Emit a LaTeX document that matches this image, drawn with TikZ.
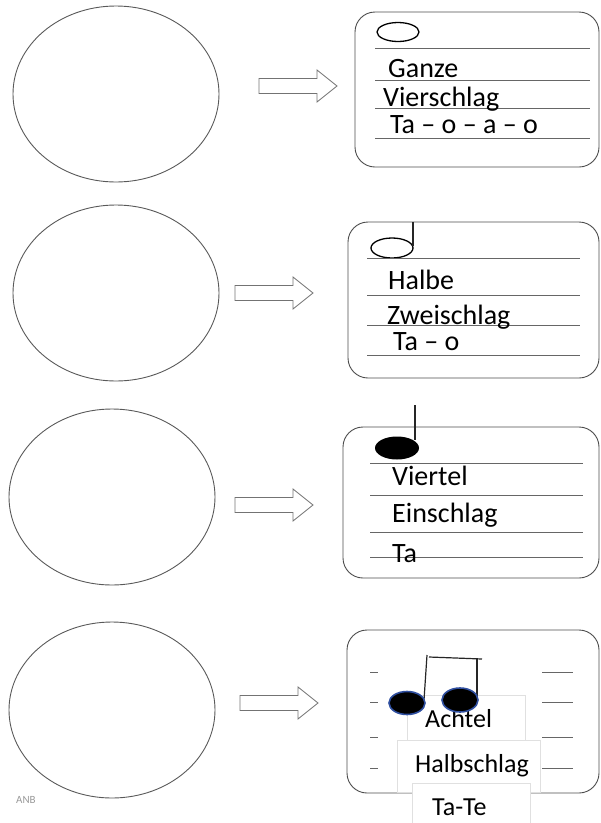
\documentclass[tikz,border=0pt]{standalone}
\usepackage{fontspec}
\setmainfont{Carlito}
\usetikzlibrary{shapes.geometric}

\tikzset{
  oval/.style={draw=black!65, line width=0.9pt, ellipse, inner sep=0pt,
    minimum width=206pt, minimum height=176pt},
  card/.style={draw=black!70, line width=0.9pt, rounded corners=20pt, inner sep=0pt},
  rule/.style={draw=black!60, line width=0.8pt},
  blockarrow/.style={draw=black!55, line width=0.8pt},
  label/.style={anchor=base west, inner sep=0pt, font=\fontsize{28}{32}\selectfont},
  small/.style={anchor=base west, inner sep=0pt, font=\fontsize{26}{30}\selectfont},
  tagbox/.style={draw=black!12, fill=white, line width=0.6pt},
  notehead/.style={fill=black, draw=black, line width=1pt},
  stem/.style={draw=black!85, line width=1.2pt}
}

\begin{document}
\begin{tikzpicture}[x=1pt,y=-1pt]
  \useasboundingbox (0,0) rectangle (601,823);

  % empty circles on the left
  \node[oval] (circ1) at (116,94) {};
  \node[oval] (circ2) at (116,293) {};
  \node[oval] (circ3) at (112,497) {};
  \node[oval] (circ4) at (112,710) {};

  % block arrows
  \foreach \ax/\ay in {259/86, 235/293, 235/505, 240/703}
    \draw[blockarrow] (\ax,\ay-7.5) -- ++(58,0) -- ++(0,-8.5) -- ++(20,16)
      -- ++(-20,16) -- ++(0,-8.5) -- ++(-58,0) -- cycle;

  % cards
  \node[card, minimum width=244pt, minimum height=155pt] (card1) at (477,89.5) {};
  \node[card, minimum width=251pt, minimum height=156pt] (card2) at (473.5,300) {};
  \node[card, minimum width=256pt, minimum height=151pt] (card3) at (471,502.5) {};
  \node[card, minimum width=252pt, minimum height=163pt] (card4) at (473,711.5) {};

  % card 1: whole note
  \draw[draw=black, line width=1.3pt] (398,32) ellipse (21 and 9.5);
  \foreach \ry in {48,80,108,138}
    \draw[rule] (375,\ry) -- (590,\ry);
  \node[label] (ganze) at (388,77) {Ganze};
  \node[label] (vier) at (383,106) {Vierschlag};
  \node[label] (taoao) at (390,133) {Ta – o – a – o};

  % card 2: half note
  \draw[draw=black, line width=1.3pt] (392,248) ellipse (21 and 10);
  \draw[stem] (413,222) -- (413,246);
  \foreach \ry in {258,295,325,355}
    \draw[rule] (367,\ry) -- (580,\ry);
  \node[label] (halbe) at (388,289) {Halbe};
  \node[label] (zwei) at (387,324) {Zweischlag};
  \node[label] (tao) at (393,350) {Ta – o};

  % card 3: quarter note
  \draw[stem] (415,405) -- (415,440);
  \fill[black] (397,448) ellipse (22 and 11.5);
  \foreach \ry in {463,495,532,557}
    \draw[rule] (370,\ry) -- (583,\ry);
  \node[label] (viertel) at (392,485) {Viertel};
  \node[label] (ein) at (392,522) {Einschlag};
  \node[label] (ta) at (392,562) {Ta};

  % card 4: eighth notes
  \foreach \ry in {672,702,737,768} {
    \draw[rule] (370,\ry) -- (378,\ry);
    \draw[rule] (542,\ry) -- (573,\ry);
  }
  \draw[tagbox] (407,695) rectangle (525,740);
  \draw[tagbox] (397,740) rectangle (540,792);
  \draw[tagbox] (412,783) rectangle (530,825);
  \node[small] (achtel) at (425,727) {Achtel};
  \node[small] (halbschlag) at (415,772) {Halbschlag};
  \node[small] (tate) at (432,815) {Ta-Te};
  \draw[stem] (427,655) -- (424,700);
  \draw[stem] (477,659) -- (477,698);
  \draw[stem] (429,657) -- (482,659);
  \draw[notehead, draw={rgb,255:red,47;green,79;blue,160}, line width=1.6pt] (407,703) ellipse (18 and 11.5);
  \draw[notehead, draw={rgb,255:red,47;green,79;blue,160}, line width=1.6pt] (460,700) ellipse (18 and 12);

  % faint mark
  \node[anchor=base west, inner sep=0pt, text=black!40, font=\fontsize{11}{12}\selectfont] (mark) at (16,803) {ANB};
\end{tikzpicture}
\end{document}
